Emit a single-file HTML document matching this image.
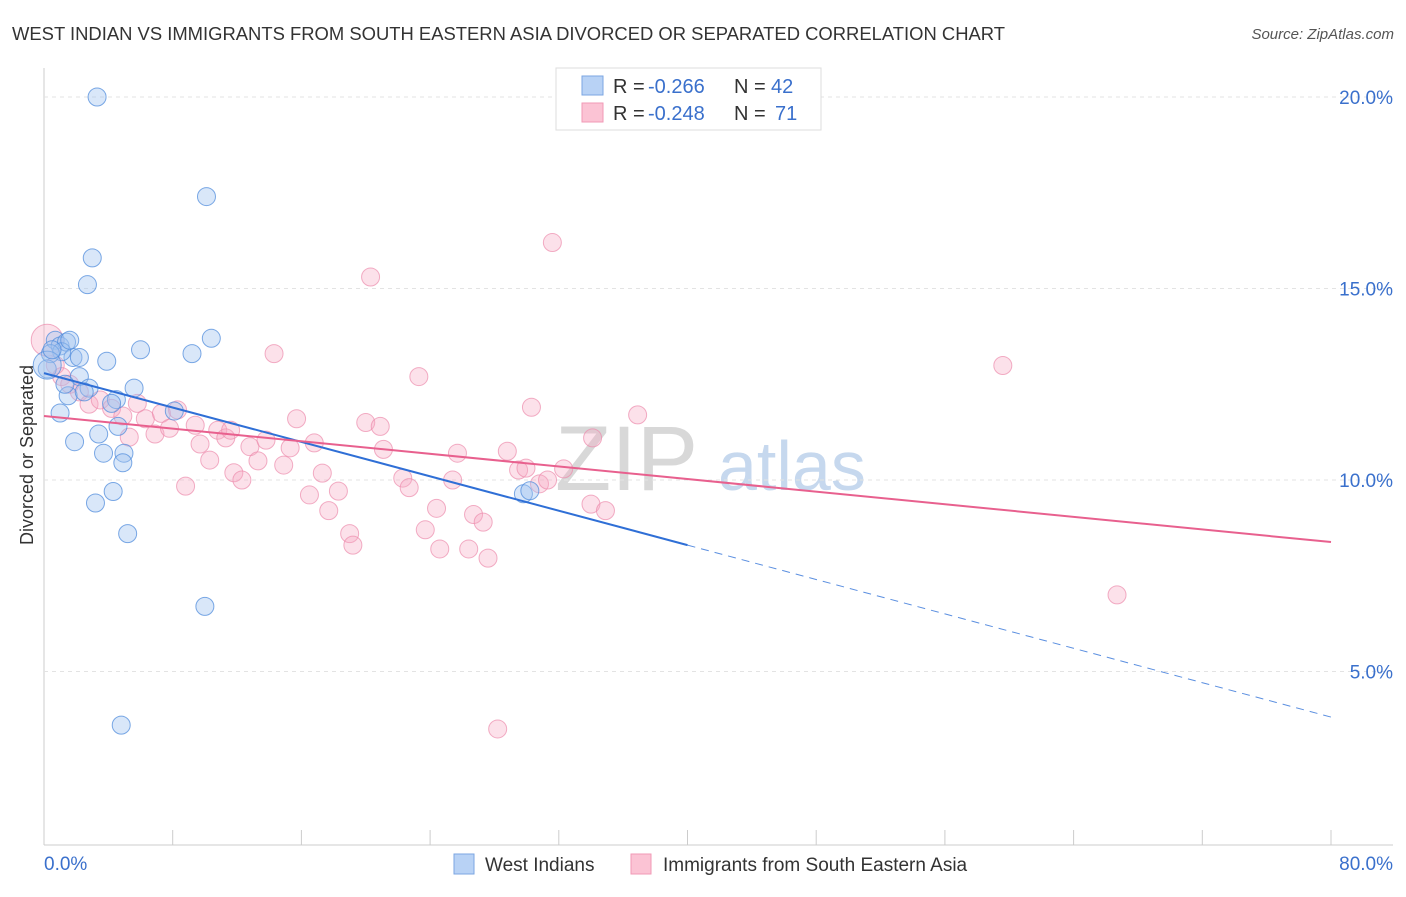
<!DOCTYPE html>
<html><head><meta charset="utf-8"><style>
body{margin:0;background:#fff;font-family:"Liberation Sans",sans-serif;}
svg text{font-family:"Liberation Sans",sans-serif;}
</style></head><body>
<svg width="1406" height="892" id="chart">
<text x="12" y="40" font-size="18" fill="#333" textLength="993" lengthAdjust="spacingAndGlyphs">WEST INDIAN VS IMMIGRANTS FROM SOUTH EASTERN ASIA DIVORCED OR SEPARATED CORRELATION CHART</text>
<text x="1394" y="39" font-size="15" fill="#555" font-style="italic" text-anchor="end">Source: ZipAtlas.com</text>
<text x="555" y="490" font-size="92" fill="#d8d8d8" font-family="Liberation Serif">ZIP</text>
<text x="718" y="490" font-size="70" fill="#c6d8ee">atlas</text>
<text transform="translate(33,455) rotate(-90)" font-size="18" fill="#333" text-anchor="middle">Divorced or Separated</text>
<g id="grid"></g><g id="pts"></g><g id="lines"></g>
<g>
<rect x="556" y="68" width="265" height="62" fill="#fff" stroke="#ddd"/>
<rect x="582" y="76" width="21" height="19" fill="#b8d2f5" stroke="#7ba6e2"/>
<rect x="582" y="103" width="21" height="19" fill="#fbc3d4" stroke="#f09ab6"/>
<text x="613" y="93" font-size="20" fill="#333">R =</text>
<text x="648" y="93" font-size="20" fill="#3a70cc">-0.266</text>
<text x="734" y="93" font-size="20" fill="#333">N =</text>
<text x="771" y="93" font-size="20" fill="#3a70cc">42</text>
<text x="613" y="120" font-size="20" fill="#333">R =</text>
<text x="648" y="120" font-size="20" fill="#3a70cc">-0.248</text>
<text x="734" y="120" font-size="20" fill="#333">N =</text>
<text x="775" y="120" font-size="20" fill="#3a70cc">71</text>
</g>
<g>
<rect x="454" y="854" width="20" height="20" fill="#b8d2f5" stroke="#7ba6e2"/>
<text x="485" y="871" font-size="19" fill="#333">West Indians</text>
<rect x="631" y="854" width="20" height="20" fill="#fbc3d4" stroke="#f09ab6"/>
<text x="663" y="871" font-size="19" fill="#333">Immigrants from South Eastern Asia</text>
</g>
</svg>
<script>
const xTicks=[0,80];
const yTicks=[5,10,15,20];
const blueX=[3.3,10.1,3.0,2.7,10.4,6.0,9.2,3.9,0.7,1.0,1.4,1.8,2.2,1.1,0.4,0.2,2.2,2.8,5.6,1.5,2.5,4.5,4.2,8.1,1.0,3.4,1.9,4.6,3.7,4.97,4.9,4.3,3.2,5.2,10.0,4.8,29.8,30.2,0.2,1.6,0.5,1.3];
const blueY=[20.0,17.4,15.8,15.1,13.7,13.4,13.3,13.1,13.65,13.5,13.6,13.2,13.2,13.35,13.3,12.9,12.7,12.4,12.4,12.2,12.3,12.1,12.0,11.8,11.75,11.2,11.0,11.4,10.7,10.7,10.45,9.7,9.4,8.6,6.7,3.6,9.64,9.72,13.0,13.65,13.4,12.5];
const pinkX=[32.9,31.6,20.3,14.3,59.6,23.3,36.9,30.3,0.2,0.7,1.1,1.6,2.2,2.8,3.5,4.2,4.9,5.8,6.3,5.3,6.9,7.3,7.8,8.3,8.8,9.7,10.3,10.8,11.3,11.8,12.3,12.8,13.3,13.8,14.9,15.3,15.7,16.5,16.8,17.3,17.7,18.3,19.0,19.2,20.0,20.9,21.1,22.3,22.7,23.7,24.4,24.6,25.4,25.7,26.4,26.7,27.3,27.6,28.8,29.5,29.96,30.8,31.3,32.3,34.1,34.0,34.9,66.7,28.2,11.6,9.4];
const pinkY=[19.4,16.2,15.3,13.3,12.99,12.7,11.7,11.9,13.65,13.0,12.7,12.5,12.3,11.98,12.09,11.87,11.67,12.0,11.6,11.12,11.2,11.74,11.35,11.83,9.84,10.94,10.52,11.3,11.1,10.19,10.0,10.87,10.5,11.04,10.39,10.84,11.6,9.61,10.97,10.18,9.2,9.71,8.6,8.3,11.5,11.4,10.8,10.05,9.8,8.7,9.26,8.2,10.0,10.7,8.2,9.1,8.9,7.96,10.75,10.26,10.31,9.9,10.0,10.29,11.1,9.37,9.2,7.0,3.5,11.3,11.43];
const blueLine=[12.79,3.81], blueSolidEnd=40;
const pinkLine=[11.67,8.38];
const X=v=>44+v*1287/80, Y=v=>863-v*38.3;
const NS='http://www.w3.org/2000/svg';
function mk(tag,attrs,parent){const e=document.createElementNS(NS,tag);for(const k in attrs)e.setAttribute(k,attrs[k]);parent.appendChild(e);return e;}
const grid=document.getElementById('grid');
mk('line',{x1:44,y1:68,x2:44,y2:845,stroke:'#ccc'},grid);
mk('line',{x1:44,y1:845,x2:1393,y2:845,stroke:'#ccc'},grid);
yTicks.forEach(t=>{
 const l=mk('line',{x1:44,y1:Y(t),x2:1393,y2:Y(t),stroke:'#e3e3e3','stroke-dasharray':'4,4'},grid);
 
 
 const tx=mk('text',{x:1393,y:Y(t)+7,'font-size':19,fill:'#3a70cc','text-anchor':'end'},grid);
 tx.textContent=t.toFixed(1)+'%';
 
 
});
for(let i=1;i<=10;i++){mk('line',{x1:X(i*8),y1:830,x2:X(i*8),y2:845,stroke:'#ccc'},grid);}
xTicks.forEach((t,i)=>{
 const tx=mk('text',{x:i==0?44:1393,y:870,'font-size':19,fill:'#3a70cc','text-anchor':i==0?'start':'end'},grid);
 tx.textContent=t.toFixed(1)+'%';
 
 
});
const pts=document.getElementById('pts');
pinkX.forEach((v,i)=>{
 const c=mk('circle',{cx:X(v),cy:Y(pinkY[i]),r:i==8?16:9,fill:'rgba(246,170,196,0.35)',stroke:'rgba(236,140,172,0.7)','stroke-width':1},pts);
 
 
});
blueX.forEach((v,i)=>{
 const c=mk('circle',{cx:X(v),cy:Y(blueY[i]),r:i==38?14:9,fill:'rgba(160,196,240,0.4)',stroke:'rgba(80,140,220,0.75)','stroke-width':1},pts);
 
 
});
const lines=document.getElementById('lines');
const by=x=>blueLine[0]+(blueLine[1]-blueLine[0])*x/80;
let l1=mk('line',{x1:X(0),y1:Y(by(0)),x2:X(blueSolidEnd),y2:Y(by(blueSolidEnd)),stroke:'#2f6fd6','stroke-width':2},lines);


let l2=mk('line',{x1:X(blueSolidEnd),y1:Y(by(blueSolidEnd)),x2:X(80),y2:Y(by(80)),stroke:'#5b8fe0','stroke-width':1,'stroke-dasharray':'8,6'},lines);


let l3=mk('line',{x1:X(0),y1:Y(pinkLine[0]),x2:X(80),y2:Y(pinkLine[1]),stroke:'#e8608e','stroke-width':2},lines);


</script>
</body></html>
